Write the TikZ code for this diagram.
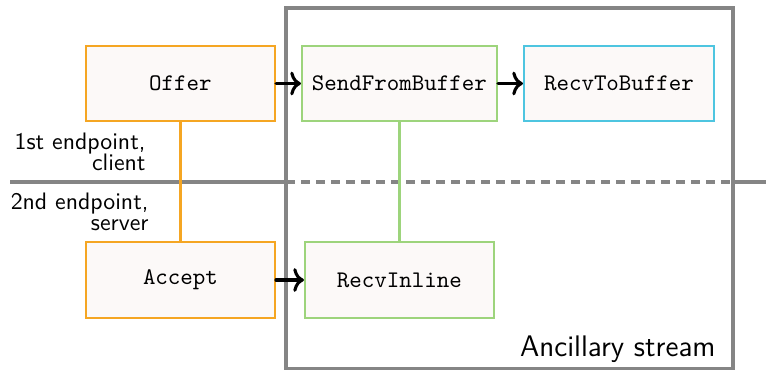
\documentclass[tikz,border=0pt]{standalone}
\usetikzlibrary{arrows.meta}
\definecolor{boxfill}{HTML}{FCF9F8}
\definecolor{orangeline}{HTML}{F5A623}
\definecolor{greenline}{HTML}{9DD47C}
\definecolor{cyanline}{HTML}{4EC5E0}
\definecolor{frame}{HTML}{858585}
\tikzset{
  opbox/.style={draw, fill=boxfill, line width=0.85pt, minimum height=31.6pt,
    inner sep=0pt, font=\ttfamily},
  sidelabel/.style={align=right, anchor=base east, inner sep=0pt,
    font=\sffamily},
  flow/.style={-{To[length=4.5pt,width=10pt]}, line width=1.3pt, line cap=round},
  divider/.style={frame, line width=1.35pt},
}
\begin{document}
\begin{tikzpicture}[x=0.42pt,y=-0.42pt]
\useasboundingbox (0,0) rectangle (766,370);

% stream frame
\draw[frame, line width=1.3pt] (286,8) rectangle (733,369);
\node[anchor=base east, inner sep=0pt, font=\sffamily\fontsize{12.5pt}{15pt}\selectfont] (anc) at (716,356) {Ancillary stream};

% endpoint divider
\coordinate (dl) at (10,182);
\coordinate (dm1) at (286,182);
\coordinate (dm2) at (733,182);
\coordinate (dr) at (766,182);
\draw[divider] (dl) -- (dm1);
\draw[divider, dash pattern=on 3.8pt off 2.5pt] (dm1) -- (dm2);
\draw[divider] (dm2) -- (dr);

\node[sidelabel] (cl) at (146,170) {1st endpoint,\\[-3.4pt]client};
\node[sidelabel] (sv) at (149,230) {2nd endpoint,\\[-3.4pt]server};

% operations
\node[opbox, draw=orangeline, minimum width=79.4pt] (offer) at (180.5,83.5) {Offer};
\node[opbox, draw=greenline, minimum width=81.9pt] (send) at (399.5,83.5) {SendFromBuffer};
\node[opbox, draw=cyanline, minimum width=79.8pt] (rtb) at (619,83.5) {RecvToBuffer};
\node[opbox, draw=orangeline, minimum width=79.4pt] (accept) at (180.5,280) {Accept};
\node[opbox, draw=greenline, minimum width=79.4pt] (rin) at (399.5,280) {RecvInline};

% links between endpoints
\draw[orangeline, line width=1pt] (offer.south) -- (accept.north);
\draw[greenline, line width=1pt] (send.south) -- (rin.north);

% data flow
\draw[flow] (offer.east) -- (send.west);
\draw[flow] (send.east) -- (rtb.west);
\draw[flow] (accept.east) -- (rin.west);
\end{tikzpicture}
\end{document}
